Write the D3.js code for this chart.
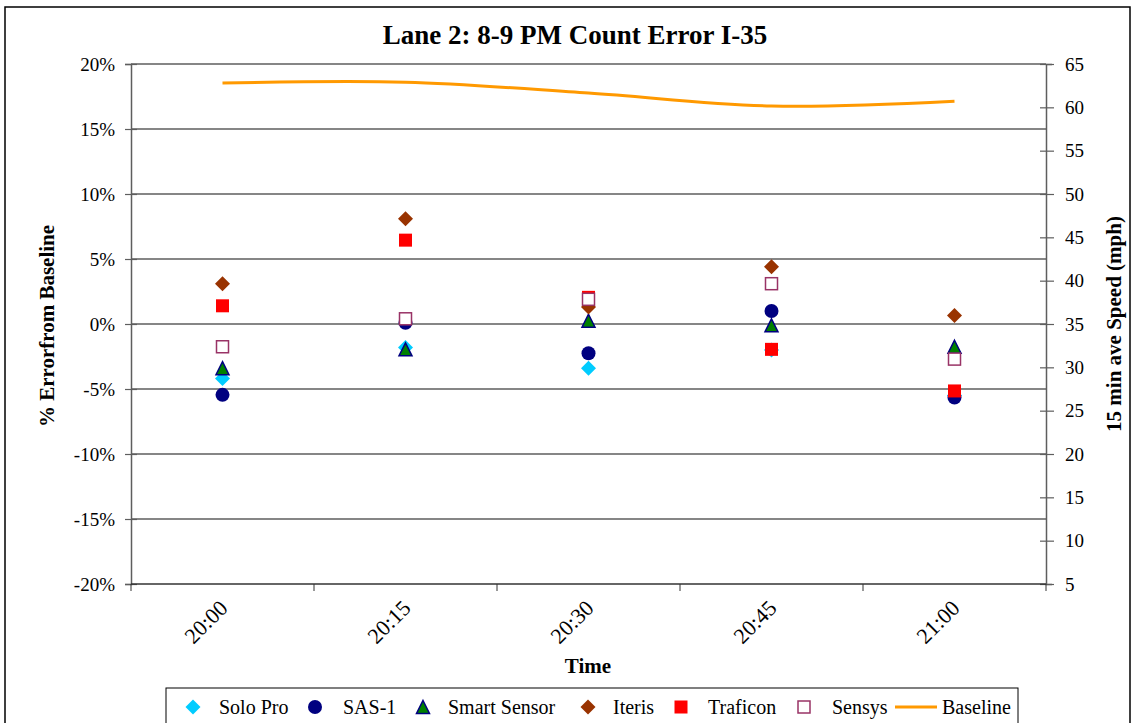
<!DOCTYPE html>
<html><head><meta charset="utf-8">
<script src="https://cdn.jsdelivr.net/npm/d3@7"></script>
<style>
html,body{margin:0;padding:0;background:#fff;}
svg text{font-family:"Liberation Serif","Times New Roman",serif;}
</style></head>
<body>
<svg id="c" width="1135" height="723"></svg>
<script>
const categories = ["20:00","20:15","20:30","20:45","21:00"];
const soloPro     = [-4.2, -1.8, -3.4, -2.0, -5.5];
const sas1        = [-5.45, 0.1, -2.25, 1.0, -5.65];
const smartSensor = [-3.4, -1.95, 0.25, -0.1, -1.75];
const iteris      = [3.1, 8.1, 1.3, 4.4, 0.65];
const traficon    = [1.4, 6.45, 2.05, -1.95, -5.15];
const sensys      = [-1.75, 0.4, 1.9, 3.1, -2.7];
const baseline    = [62.8, 62.9, 61.65, 60.15, 60.7];
const leftTicks = [-20,-15,-10,-5,0,5,10,15,20];
const rightTicks = [5,10,15,20,25,30,35,40,45,50,55,60,65];

const series = [
  {name:"Solo Pro", values:soloPro, shape:"diamond", fill:"#00CCFF", stroke:"none"},
  {name:"SAS-1", values:sas1, shape:"circle", fill:"#000080", stroke:"none"},
  {name:"Smart Sensor", values:smartSensor, shape:"triangle", fill:"#008000", stroke:"#000080"},
  {name:"Iteris", values:iteris, shape:"diamond", fill:"#993300", stroke:"none"},
  {name:"Traficon", values:traficon, shape:"square", fill:"#FF0000", stroke:"none"},
  {name:"Sensys", values:sensys, shape:"hsquare", fill:"#fff", stroke:"#993366"}
];

const svg = d3.select("#c");
const L = 131, R = 1046, T = 64, B = 584;

// outer border
svg.append("rect").attr("x",5).attr("y",7).attr("width",1125).attr("height",740)
  .attr("fill","none").attr("stroke","#000").attr("stroke-width",1.5);

const x = d3.scaleBand().domain(categories).range([L,R]);
const y = d3.scaleLinear().domain([-20,20]).range([B,T]);
const y2 = d3.scaleLinear().domain([5,65]).range([B,T]);

// gridlines
svg.append("g").selectAll("line").data(leftTicks.filter(d=>d>-20)).join("line")
  .attr("x1",L).attr("x2",R).attr("y1",d=>y(d)).attr("y2",d=>y(d))
  .attr("stroke","#5e5e5e").attr("stroke-width",1.5);

// left axis
const gl = svg.append("g").attr("transform",`translate(${L},0)`)
  .call(d3.axisLeft(y).tickValues(leftTicks).tickFormat(d=>d+"%").tickSize(6).tickPadding(10));
gl.select(".domain").attr("stroke","#5e5e5e").attr("stroke-width",1.5);
gl.selectAll(".tick line").attr("x2",6).attr("x1",-6).attr("stroke","#5e5e5e").attr("stroke-width",1.2);
gl.selectAll("text").attr("font-size",19).attr("font-family","Liberation Serif").attr("fill","#000");

// right axis
const gr = svg.append("g").attr("transform",`translate(${R},0)`)
  .call(d3.axisRight(y2).tickValues(rightTicks).tickSize(6).tickPadding(13));
gr.select(".domain").attr("stroke","#5e5e5e").attr("stroke-width",1.5);
gr.selectAll(".tick line").attr("x1",-6).attr("x2",8).attr("stroke","#5e5e5e").attr("stroke-width",1.2);
gr.selectAll("text").attr("font-size",19).attr("font-family","Liberation Serif").attr("fill","#000");

// bottom axis
const bx = svg.append("g").attr("transform",`translate(0,${B})`);
bx.append("line").attr("x1",L).attr("x2",R).attr("stroke","#333").attr("stroke-width",1.5);
const bounds = categories.map(c=>x(c)).concat([R]);
bx.selectAll("line.tk").data(bounds).join("line").attr("class","tk")
  .attr("x1",d=>d).attr("x2",d=>d).attr("y1",0).attr("y2",7).attr("stroke","#333");
bx.selectAll("text").data(categories).join("text")
  .attr("transform",d=>`translate(${x(d)+x.bandwidth()/2+1},${20}) rotate(-45)`)
  .attr("text-anchor","end").attr("font-size",22).attr("dy","0.35em").text(d=>d);

// baseline line
const line = d3.line().x((d,i)=>x(categories[i])+x.bandwidth()/2).y(d=>y2(d)).curve(d3.curveCatmullRom.alpha(0.5));
svg.append("path").datum(baseline).attr("d",line).attr("fill","none")
  .attr("stroke","#FF9900").attr("stroke-width",3);

function drawMarker(g, shape, cx, cy, fill, stroke){
  if(shape==="diamond"){
    g.append("path").attr("d",`M${cx},${cy-7.5}L${cx+7.5},${cy}L${cx},${cy+7.5}L${cx-7.5},${cy}Z`).attr("fill",fill);
  } else if(shape==="circle"){
    g.append("circle").attr("cx",cx).attr("cy",cy).attr("r",7).attr("fill",fill);
  } else if(shape==="triangle"){
    g.append("path").attr("d",`M${cx},${cy-6.5}L${cx+6.5},${cy+6.5}L${cx-6.5},${cy+6.5}Z`)
      .attr("fill",fill).attr("stroke",stroke).attr("stroke-width",1.5);
  } else if(shape==="square"){
    g.append("rect").attr("x",cx-6.5).attr("y",cy-6.5).attr("width",13).attr("height",13).attr("fill",fill);
  } else if(shape==="hsquare"){
    g.append("rect").attr("x",cx-6).attr("y",cy-6).attr("width",12).attr("height",12)
      .attr("fill",fill).attr("stroke",stroke).attr("stroke-width",1.5);
  }
}

const mg = svg.append("g");
series.forEach(s=>{
  s.values.forEach((v,i)=>{
    drawMarker(mg, s.shape, x(categories[i])+x.bandwidth()/2, y(v), s.fill, s.stroke);
  });
});

// title
svg.append("text").attr("x",575).attr("y",44).attr("text-anchor","middle")
  .attr("font-size",27).attr("font-weight","bold").text("Lane 2: 8-9 PM Count Error I-35");

// axis titles
svg.append("text").attr("transform","translate(54,326) rotate(-90)").attr("text-anchor","middle")
  .attr("font-size",21).attr("font-weight","bold").text("% Errorfrom Baseline");
svg.append("text").attr("transform","translate(1121,324) rotate(-90)").attr("text-anchor","middle")
  .attr("font-size",21).attr("font-weight","bold").text("15 min ave Speed (mph)");
svg.append("text").attr("x",588).attr("y",673).attr("text-anchor","middle")
  .attr("font-size",21).attr("font-weight","bold").text("Time");

// legend
svg.append("rect").attr("x",166).attr("y",688).attr("width",852).attr("height",50)
  .attr("fill","#fff").attr("stroke","#000").attr("stroke-width",1);
const legendItems = series.map(s=>s.name).concat(["Baseline"]);
const legX = [[193,219],[315,343],[423,448],[588,613],[681,708],[804,832]];
const lg = svg.append("g");
series.forEach((s,i)=>{
  drawMarker(lg, s.shape, legX[i][0], 707, s.fill, s.stroke);
  lg.append("text").attr("x",legX[i][1]).attr("y",714).attr("font-size",20).text(legendItems[i]);
});
lg.append("line").attr("x1",895).attr("x2",937).attr("y1",707).attr("y2",707)
  .attr("stroke","#FF9900").attr("stroke-width",3);
lg.append("text").attr("x",942).attr("y",714).attr("font-size",20).text(legendItems[6]);
</script>
</body></html>
